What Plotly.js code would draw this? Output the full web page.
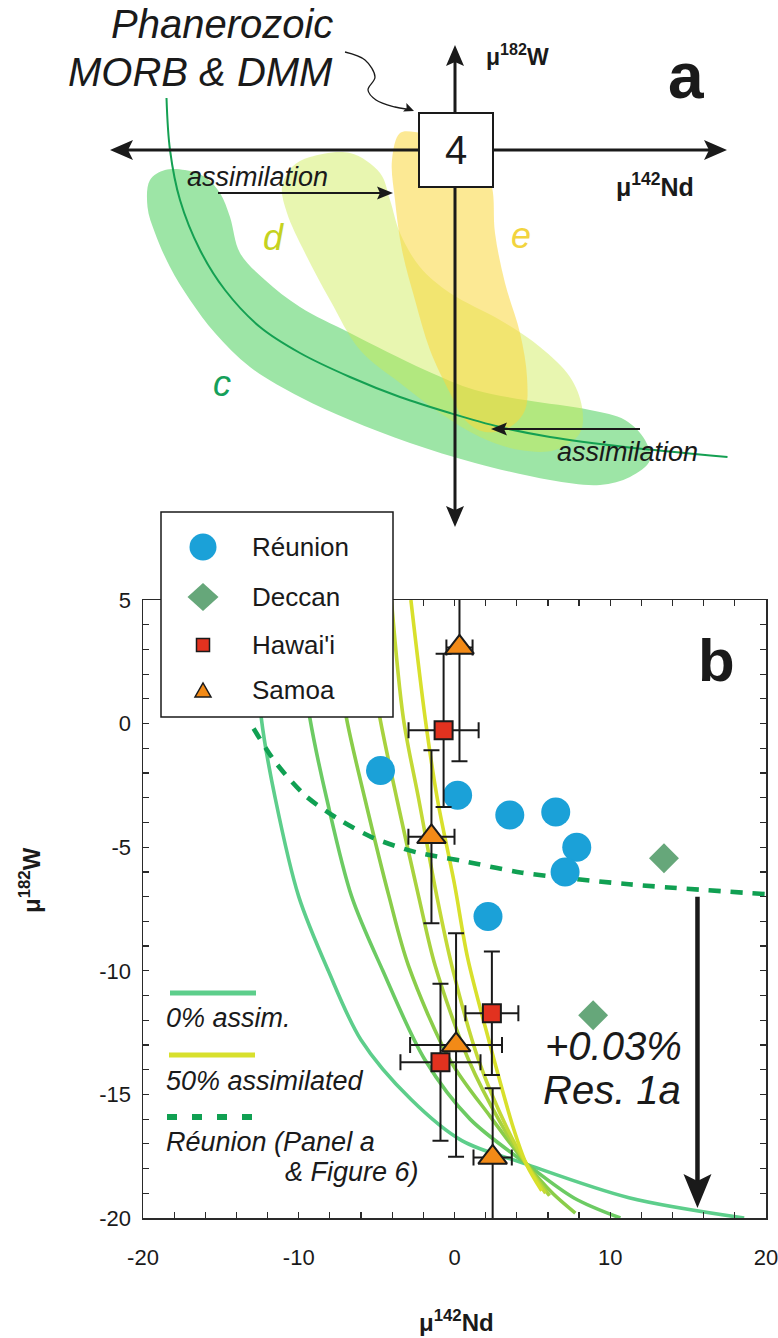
<!DOCTYPE html>
<html><head><meta charset="utf-8">
<script src="https://cdn.plot.ly/plotly-3.0.1.min.js"></script>
<style>html,body{margin:0;padding:0;background:#fff}#chart{width:778px;height:1338px}</style>
</head><body><div id="chart"></div>
<script>
// ---------- Panel b data (mu142Nd, mu182W) ----------
const reunionX = [-4.75, 0.2, 3.55, 6.5, 7.85, 7.1, 2.15];
const reunionY = [-1.9, -2.9, -3.7, -3.58, -5.0, -6.0, -7.8];

const deccanX = [13.45, 8.9];
const deccanY = [-5.45, -11.8];

const hawaiiX = [-0.7, 2.4, -0.9];
const hawaiiY = [-0.27, -11.72, -13.7];
const hawaiiXerr = [2.25, 1.7, 2.57];
const hawaiiYerr = [3.1, 2.5, 3.18];

const samoaX = [0.32, -1.48, 0.1, 2.45];
const samoaY = [3.08, -4.58, -13.0, -17.55];
const samoaXerr = [0.84, 1.48, 2.95, 1.23];
const samoaYerr = [4.6, 3.5, 4.52, 2.8];

// mixing curves, 0% (c1) to 50% assimilated (c6)
const c1x = [-13.0, -12.6, -12.4, -11.5, -10.0, -8.1, -6.0, -2.8, 0.47, 4.5, 11.2, 18.6];
const c1y = [5.0, 2.0, 0.2, -3.05, -7.0, -10.0, -12.8, -15.2, -16.87, -17.8, -19.18, -20.0];
const c2x = [-9.9, -9.28, -8.2, -6.6, -4.6, -1.9, 1.0, 4.6, 7.7, 10.65];
const c2y = [3.0, 0.2, -3.05, -7.0, -10.0, -13.6, -16.0, -17.8, -19.2, -20.0];
const c3x = [-7.6, -6.93, -5.75, -4.2, -2.95, -0.3, 2.3, 4.6, 6.3, 7.76];
const c3y = [3.0, 0.2, -3.05, -7.0, -9.8, -13.6, -15.9, -17.8, -19.0, -19.8];
const c4x = [-5.5, -4.78, -3.7, -2.3, -1.24, 0.9, 3.0, 4.6, 6.1];
const c4y = [3.0, 0.2, -3.05, -7.0, -9.8, -13.6, -16.2, -17.8, -19.1];
const c5x = [-4.05, -3.28, -2.3, -1.13, -0.17, 1.54, 3.4, 4.6, 5.85];
const c5y = [5.0, 0.2, -3.05, -7.0, -9.8, -13.6, -16.4, -17.8, -19.0];
const c6x = [-2.8, -1.88, -1.1, 0.0, 0.85, 2.2, 3.8, 4.6, 5.6];
const c6y = [5.0, 0.2, -3.05, -6.5, -9.5, -12.8, -16.4, -17.8, -18.9];
const curveColors = ['#5dce8b', '#6ccb63', '#8acd4a', '#a8d23e', '#c3d936', '#d8e02c'];

// Reunion trend (dashed)
const reunionLineX = [-12.9, -11.5, -9.6, -7.46, -5.3, -2.5, 0.47, 4.33, 11.2, 20.0];
const reunionLineY = [-0.2, -1.56, -2.9, -3.86, -4.6, -5.2, -5.55, -6.03, -6.5, -6.9];

// Arrow "+0.03% Res. 1a"
const resArrowX = 15.6;
const resArrowFrom = -7.0;
const resArrowTo = -19.6;

// tick labels
const xTickVals = [-20, -10, 0, 10, 20];
const xTickText = ['-20', '-10', '0', '10', '20'];
const yTickVals = [-20, -15, -10, -5, 0, 5];
const yTickText = ['-20', '-15', '-10', '-5', '0', '5'];

const legendNames = ['Réunion', 'Deccan', "Hawai'i", 'Samoa'];

// ---------- Panel a schematic outlines (page pixel space) ----------
const blobCx = [165,150,147.5,155,170,190,215,250,300,350,410,475,550,600,630,650,645,625,590,525,475,425,350,300,265,240,230,220,205,185,165];
const blobCy = [170,180,207,233,267,300,333,367,397,420,443,463,480,485,477,460,440,420,410,400,390,370,333,307,280,253,217,193,177,170,170];
const blobDx = [310,350,380,390,400,420,450,500,540,570,582,580,555,520,480,440,400,360,330,305,287,282,292,310];
const blobDy = [157,153,173,200,233,267,293,320,347,377,407,433,450,450,437,413,383,350,300,253,213,187,167,157];
const blobEx = [400,415,435,480,492,495,505,520,527,525,510,485,465,450,430,415,402,395,392,400];
const blobEy = [133,132,137,157,187,233,283,333,377,410,427,432,420,393,350,300,250,200,160,133];
const aCurveX = [166.5,170,180,200,225,260,300,350,400,450,500,550,625,727.5];
const aCurveY = [98,150,200,250,290,327,353,377,397,413,427,437,447,457];
const leadX = [345,365,375,368,376,395,406];
const leadY = [52,60,77,90,100,107,109];

const FONT = 'Liberation Sans, Arial, Helvetica, sans-serif';
const INK = '#1a1a1a';

const traces = [];
const cxs = [c1x, c2x, c3x, c4x, c5x, c6x];
const cys = [c1y, c2y, c3y, c4y, c5y, c6y];
for (let i = 0; i < 6; i++) {
  traces.push({x: cxs[i], y: cys[i], type: 'scatter', mode: 'lines', xaxis: 'x', yaxis: 'y',
    line: {color: curveColors[i], width: 3.6, shape: 'spline', smoothing: 0.9}, hoverinfo: 'skip'});
}
traces.push({x: reunionLineX, y: reunionLineY, type: 'scatter', mode: 'lines',
  line: {color: '#10a052', width: 4.6, dash: '12px,10px', shape: 'spline', smoothing: 0.8}, hoverinfo: 'skip'});
traces.push({x: reunionX, y: reunionY, type: 'scatter', mode: 'markers', name: legendNames[0],
  marker: {symbol: 'circle', size: 29, color: '#1ba1d8', line: {width: 0}}});
traces.push({x: deccanX, y: deccanY, type: 'scatter', mode: 'markers', name: legendNames[1],
  marker: {symbol: 'diamond', size: 23, color: '#66a77a', line: {width: 0}}});
traces.push({x: hawaiiX, y: hawaiiY, type: 'scatter', mode: 'markers', name: legendNames[2],
  error_x: {type: 'data', array: hawaiiXerr, color: INK, thickness: 2, width: 8},
  error_y: {type: 'data', array: hawaiiYerr, color: INK, thickness: 2, width: 8},
  marker: {symbol: 'square', size: 18, color: '#e2321f', line: {width: 2, color: INK}}});
traces.push({x: samoaX, y: samoaY, type: 'scatter', mode: 'markers', name: legendNames[3],
  error_x: {type: 'data', array: samoaXerr, color: INK, thickness: 2, width: 8},
  error_y: {type: 'data', array: samoaYerr, color: INK, thickness: 2, width: 8},
  marker: {symbol: 'triangle-up', size: 25, color: '#f28a17', line: {width: 2, color: INK}}});

// panel a
traces.push({x: blobCx, y: blobCy, xaxis: 'x2', yaxis: 'y2', type: 'scatter', mode: 'lines', fill: 'toself',
  fillcolor: 'rgb(157,229,166)', line: {width: 0, shape: 'spline', smoothing: 1}, hoverinfo: 'skip'});
traces.push({x: blobDx, y: blobDy, xaxis: 'x2', yaxis: 'y2', type: 'scatter', mode: 'lines', fill: 'toself',
  fillcolor: 'rgba(205,235,80,0.45)', line: {width: 0, shape: 'spline', smoothing: 1}, hoverinfo: 'skip'});
traces.push({x: blobEx, y: blobEy, xaxis: 'x2', yaxis: 'y2', type: 'scatter', mode: 'lines', fill: 'toself',
  fillcolor: 'rgba(250,215,60,0.55)', line: {width: 0, shape: 'spline', smoothing: 1}, hoverinfo: 'skip'});
traces.push({x: aCurveX, y: aCurveY, xaxis: 'x2', yaxis: 'y2', type: 'scatter', mode: 'lines',
  line: {color: '#14a052', width: 2, shape: 'spline'}, hoverinfo: 'skip'});
traces.push({x: leadX, y: leadY, xaxis: 'x2', yaxis: 'y2', type: 'scatter', mode: 'lines',
  line: {color: INK, width: 1.3, shape: 'spline'}, hoverinfo: 'skip'});

function txt(text, x, y, size, opts) {
  return Object.assign({text: text, x: x, y: y, xref: 'x2', yref: 'y2', showarrow: false,
    xanchor: 'center', yanchor: 'middle', font: {family: FONT, size: size, color: INK}}, opts || {});
}

// arrowhead path (tip at tx,ty; unit direction ux,uy; length L, half width W, notch depth N; sx,sy = units per pixel)
function headPath(tx, ty, ux, uy, L, W, N, sx, sy) {
  sx = sx || 1; sy = sy || 1;
  const px = -uy, py = ux;
  const bx = tx - ux * L, by = ty - uy * L;
  const nx = tx - ux * (L - N), ny = ty - uy * (L - N);
  const p = (x, y) => (x).toFixed(3) + ',' + (y).toFixed(3);
  const pts = [
    [tx, ty],
    [bx + px * W, by + py * W],
    [nx, ny],
    [bx - px * W, by - py * W]
  ].map(q => [tx + (q[0] - tx) * sx, ty + (q[1] - ty) * sy]);
  return 'M' + p(pts[0][0], pts[0][1]) + ' L' + p(pts[1][0], pts[1][1]) + ' L' + p(pts[2][0], pts[2][1]) +
    ' L' + p(pts[3][0], pts[3][1]) + ' Z';
}
function pxLine(x0, y0, x1, y1, w) {
  return {type: 'line', xref: 'x2', yref: 'y2', x0: x0, y0: y0, x1: x1, y1: y1, layer: 'above',
    line: {color: INK, width: w}};
}
function pxHead(tx, ty, ux, uy, L, W, N) {
  return {type: 'path', xref: 'x2', yref: 'y2', path: headPath(tx, ty, ux, uy, L, W, N), layer: 'above',
    fillcolor: INK, line: {width: 0}};
}

const annotations = [
  // panel a
  txt('4', 455.5, 150, 40, {bgcolor: '#ffffff', bordercolor: INK, borderwidth: 2, borderpad: 0, width: 72, height: 72}),
  txt('<i>Phanerozoic</i>', 335, 24, 40, {xanchor: 'right'}),
  txt('<i>MORB &amp; DMM</i>', 335, 72, 40, {xanchor: 'right'}),
  txt('<b>μ<sup>182</sup>W</b>', 484, 55, 23, {xanchor: 'left'}),
  txt('<b>a</b>', 686, 76, 64),
  txt('<b>μ<sup>142</sup>Nd</b>', 655, 185, 25),
  txt('<i>assimilation</i>', 257, 177, 27),
  txt('<i>assimilation</i>', 627, 452, 27),
  txt('<i>d</i>', 273, 237, 36, {font: {family: FONT, size: 36, color: '#c5d21f'}}),
  txt('<i>e</i>', 521, 235, 36, {font: {family: FONT, size: 36, color: '#f2d43e'}}),
  txt('<i>c</i>', 222, 383, 36, {font: {family: FONT, size: 36, color: '#15a05a'}}),
  // panel b
  txt(legendNames[0], 250, 547, 26, {xanchor: 'left'}),
  txt(legendNames[1], 250, 597, 26, {xanchor: 'left'}),
  txt(legendNames[2], 250, 645, 26, {xanchor: 'left'}),
  txt(legendNames[3], 250, 690, 26, {xanchor: 'left'}),
  txt('<b>b</b>', 716, 660, 60),
  txt('<i>0% assim.</i>', 164, 1018, 27, {xanchor: 'left'}),
  txt('<i>50% assimilated</i>', 164, 1081, 27, {xanchor: 'left'}),
  txt('<i>Réunion (Panel a</i>', 164, 1142, 27, {xanchor: 'left'}),
  txt('<i>&amp; Figure 6)</i>', 283, 1172, 27, {xanchor: 'left'}),
  txt('<i>+0.03%</i>', 613, 1046, 40),
  txt('<i>Res. 1a</i>', 612, 1090, 40),
  txt('<b>μ<sup>142</sup>Nd</b>', 456, 1321, 24),
  txt('<b>μ<sup>182</sup>W</b>', 30, 880, 24, {textangle: -90})
];

// panel b arrow head scale (data units per pixel)
const PXX = 40 / 623, PXY = 25 / 618;
const shapes = [
  // panel a axes (double-headed arrows)
  pxLine(126, 150, 711, 150, 3), pxHead(110, 150, -1, 0, 23, 10, 5), pxHead(727, 150, 1, 0, 23, 10, 5),
  pxLine(455, 62, 455, 510, 3), pxHead(455, 45, 0, -1, 21, 9, 4), pxHead(455, 527, 0, 1, 21, 9, 4),
  // leader arrowhead
  pxHead(414, 111, 0.93, 0.37, 10, 4.5, 2),
  // assimilation arrows
  pxLine(218, 193, 382, 193, 2), pxHead(393, 193, 1, 0, 16, 6.5, 3),
  pxLine(640, 429, 502, 429, 2), pxHead(491, 429, -1, 0, 16, 6.5, 3),
  // panel b big arrow
  {type: 'line', xref: 'x', yref: 'y', x0: resArrowX, x1: resArrowX, y0: resArrowFrom, y1: resArrowTo + 26 * PXY,
    layer: 'above', line: {color: INK, width: 4.5}},
  {type: 'path', xref: 'x', yref: 'y', layer: 'above', fillcolor: INK, line: {width: 0},
    path: headPath(resArrowX, resArrowTo, 0, 1, 34, 14, 7, PXX, -PXY)},
  // panel b legend box
  {type: 'rect', xref: 'x2', yref: 'y2', x0: 161, x1: 393, y0: 512, y1: 717, layer: 'above',
    fillcolor: '#ffffff', line: {color: INK, width: 1.5}},
  {type: 'circle', xref: 'x2', yref: 'y2', x0: 189.5, x1: 216.5, y0: 533.5, y1: 560.5, layer: 'above',
    fillcolor: '#1ba1d8', line: {width: 0}},
  {type: 'path', xref: 'x2', yref: 'y2', path: 'M187.5,597 L203,583 L218.5,597 L203,611 Z', layer: 'above',
    fillcolor: '#66a77a', line: {width: 0}},
  {type: 'rect', xref: 'x2', yref: 'y2', x0: 196.5, x1: 209.5, y0: 638.5, y1: 651.5, layer: 'above',
    fillcolor: '#e2321f', line: {color: INK, width: 1.5}},
  {type: 'path', xref: 'x2', yref: 'y2', path: 'M195,697 L211,697 L203,683 Z', layer: 'above',
    fillcolor: '#f28a17', line: {color: INK, width: 1.5}},
  // line-style key
  {type: 'line', xref: 'x2', yref: 'y2', x0: 170, x1: 256, y0: 993, y1: 993, layer: 'above',
    line: {color: curveColors[0], width: 5}},
  {type: 'line', xref: 'x2', yref: 'y2', x0: 169, x1: 255, y0: 1055, y1: 1055, layer: 'above',
    line: {color: curveColors[5], width: 5}},
  {type: 'line', xref: 'x2', yref: 'y2', x0: 167, x1: 252, y0: 1117, y1: 1117, layer: 'above',
    line: {color: '#10a052', width: 6, dash: '10px,15px'}}
];

const axisCommon = {showgrid: false, zeroline: false, showline: true, linecolor: '#2a2a2a', linewidth: 1.5,
  mirror: 'ticks', ticks: 'inside', ticklen: 6, tickwidth: 1.2, tickcolor: '#2a2a2a',
  ticklabeloverflow: 'allow',
  tickfont: {family: FONT, size: 22, color: INK}, fixedrange: true};

const layout = {
  width: 778, height: 1338, margin: {l: 0, r: 0, t: 0, b: 0},
  paper_bgcolor: '#ffffff', plot_bgcolor: 'rgba(0,0,0,0)', showlegend: false, hovermode: false,
  xaxis: Object.assign({}, axisCommon, {domain: [143/778, 766/778], range: [-20, 20], anchor: 'y',
    tickmode: 'array', tickvals: xTickVals, ticktext: xTickText, ticklabelstandoff: 19,
    minor: {dtick: 2, tick0: 0, ticks: 'inside', ticklen: 6, tickwidth: 1.2, tickcolor: '#2a2a2a', showgrid: false}}),
  yaxis: Object.assign({}, axisCommon, {domain: [120/1338, 738/1338], range: [-20, 5], anchor: 'x',
    tickmode: 'array', tickvals: yTickVals, ticktext: yTickText, ticklabelstandoff: 6,
    minor: {dtick: 1, tick0: 0, ticks: 'inside', ticklen: 6, tickwidth: 1.2, tickcolor: '#2a2a2a', showgrid: false}}),
  xaxis2: {domain: [0, 1], range: [0, 778], anchor: 'y2', visible: false, fixedrange: true},
  yaxis2: {domain: [0, 1], range: [1338, 0], anchor: 'x2', visible: false, fixedrange: true},
  annotations: annotations,
  shapes: shapes
};

Plotly.newPlot('chart', traces, layout, {displayModeBar: false, staticPlot: true});
</script></body></html>
